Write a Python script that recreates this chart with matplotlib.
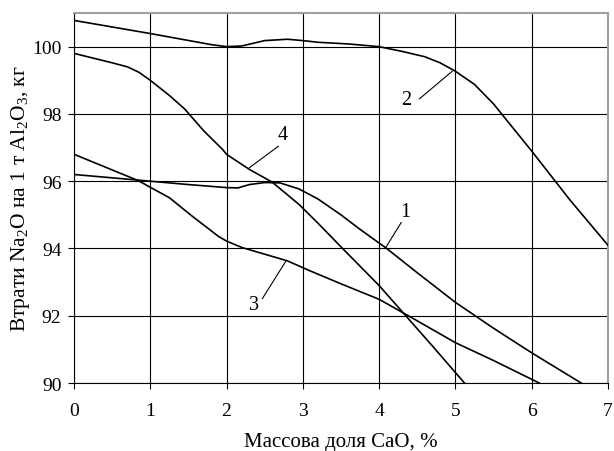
import matplotlib
matplotlib.use('Agg')
import matplotlib.pyplot as plt

plt.rcParams['font.family'] = ['Liberation Serif', 'DejaVu Serif']
plt.rcParams['mathtext.fontset'] = 'custom'
plt.rcParams['mathtext.rm'] = 'Liberation Serif'
plt.rcParams['mathtext.it'] = 'Liberation Serif:italic'

# крива 1
x1 = [0, 0.5, 1, 1.5, 2, 2.15, 2.3, 2.5, 2.7, 2.95, 3.2, 3.5, 3.75, 4.1, 4.5, 5.0, 5.5, 6.0, 6.65]
y1 = [96.2, 96.1, 96.0, 95.9, 95.81, 95.8, 95.9, 95.96, 95.95, 95.77, 95.47, 95.0, 94.57, 94.0,
      93.28, 92.4, 91.63, 90.9, 90.0]

# крива 2
x2 = [0, 1, 1.8, 2, 2.2, 2.5, 2.8, 3.0, 3.2, 3.6, 4.0, 4.3, 4.6, 4.8, 5.0, 5.25, 5.5, 6.0, 6.5, 7.0]
y2 = [100.78, 100.39, 100.06, 100.0, 100.02, 100.18, 100.22, 100.18, 100.13, 100.08, 100.0,
      99.86, 99.7, 99.52, 99.27, 98.88, 98.3, 96.9, 95.45, 94.1]

# крива 3
x3 = [0, 0.84, 1.0, 1.25, 1.55, 1.9, 2.0, 2.2, 2.5, 2.8, 3.1, 3.5, 4.0, 4.5, 5.0, 5.5, 6.1]
y3 = [96.8, 96.02, 95.82, 95.51, 94.96, 94.35, 94.22, 94.03, 93.83, 93.63, 93.33, 92.95, 92.49,
      91.85, 91.2, 90.67, 90.0]

# крива 4
x4 = [0, 0.5, 0.7, 0.85, 1.0, 1.25, 1.45, 1.7, 1.95, 2.0, 2.3, 2.6, 2.95, 3.2, 3.5, 4.0, 4.35,
      4.7, 5.12]
y4 = [99.8, 99.52, 99.4, 99.24, 99.0, 98.55, 98.15, 97.5, 96.94, 96.8, 96.35, 95.97, 95.31,
      94.75, 94.05, 92.9, 92.0, 91.1, 90.0]

curves = [(x1, y1), (x2, y2), (x3, y3), (x4, y4)]

# підписи кривих: номер, позиція тексту, виносна лінія
label_names = ['1', '2', '3', '4']
label_pos = [(4.35, 95.1), (4.35, 98.43), (2.36, 92.34), (2.74, 97.39)]
leader_start = [(4.29, 94.77), (4.53, 98.45), (2.47, 92.51), (2.68, 97.04)]
leader_end = [(4.08, 94.0), (4.96, 99.27), (2.78, 93.63), (2.30, 96.4)]

x_ticks = [0, 1, 2, 3, 4, 5, 6, 7]
y_ticks = [90, 92, 94, 96, 98, 100]

fig = plt.figure(figsize=(6.14, 4.52), dpi=100)
ax = fig.add_axes([0.1205, 0.1504, 0.8695, 0.8186])

for x, y in curves:
    ax.plot(x, y, color='black', lw=1.2, solid_joinstyle='round', zorder=3)

for name, pos, a, b in zip(label_names, label_pos, leader_start, leader_end):
    ax.plot([a[0], b[0]], [a[1], b[1]], color='black', lw=0.8, zorder=3)
    ax.text(pos[0], pos[1], name, fontsize=14.5, ha='center', va='center')

ax.set_xlim(0, 7)
ax.set_ylim(90, 101)
ax.set_xticks(x_ticks)
ax.set_yticks(y_ticks)
ax.grid(True, color='black', lw=0.8)
ax.set_axisbelow(True)
ax.tick_params(direction='out', length=4, width=0.8, labelsize=14)
ax.tick_params(axis='x', pad=10)
ax.tick_params(axis='y', pad=5)

for side in ['left', 'bottom']:
    ax.spines[side].set_color('black')
    ax.spines[side].set_linewidth(0.8)
for side in ['top', 'right']:
    ax.spines[side].set_color('#a0a0a0')
    ax.spines[side].set_linewidth(1.5)

ax.set_xlabel('Массова доля CaO, %', fontsize=15, labelpad=9)
ax.set_ylabel('Втрати Na$_2$O на 1 т Al$_2$O$_3$, кг', fontsize=15.5, labelpad=0)

plt.savefig('out.png', dpi=100)
